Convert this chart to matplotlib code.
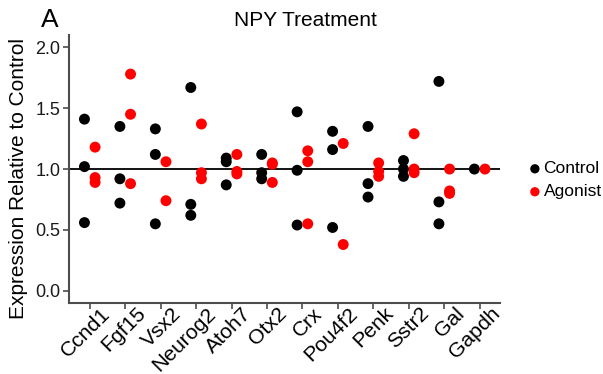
import matplotlib
matplotlib.use("Agg")
import matplotlib.pyplot as plt
import matplotlib.transforms as mtransforms
import numpy as np

genes = ["Ccnd1", "Fgf15", "Vsx2", "Neurog2", "Atoh7", "Otx2", "Crx",
         "Pou4f2", "Penk", "Sstr2", "Gal", "Gapdh"]

control = [
    [1.41, 1.02, 0.56],
    [1.35, 0.92, 0.72],
    [1.33, 1.12, 0.55],
    [1.67, 0.71, 0.62],
    [1.09, 1.06, 0.87],
    [1.12, 0.97, 0.92],
    [1.47, 0.99, 0.54],
    [1.31, 1.16, 0.52],
    [1.35, 0.88, 0.77],
    [1.07, 1.00, 0.94],
    [1.72, 0.73, 0.55],
    [1.00],
]
agonist = [
    [1.18, 0.93, 0.89],
    [1.78, 1.45, 0.88],
    [1.06, 0.74],
    [1.37, 0.97, 0.92],
    [1.12, 0.98, 0.96],
    [1.05, 1.04, 0.89],
    [1.15, 1.06, 0.55],
    [1.21, 0.38],
    [1.05, 0.98, 0.94],
    [1.29, 1.00, 0.97],
    [1.00, 0.82, 0.80],
    [1.00],
]
series_names = ["Control", "Agonist"]
series_colors = ["#000000", "#FF0000"]

plt.rcParams['font.family'] = ['Liberation Sans', 'DejaVu Sans']

fig = plt.figure(figsize=(6.03, 3.74), dpi=100)
ax = fig.add_axes([0.1136, 0.190, 0.829 - 0.1136, 0.906 - 0.190])

ax.axhline(1.0, color="black", lw=1.3, zorder=1)

dodge = 0.15
for k, (data, name, col) in enumerate(zip([control, agonist], series_names, series_colors)):
    xs, ys = [], []
    for i, vals in enumerate(data):
        for v in vals:
            xs.append(i + (-dodge if k == 0 else dodge))
            ys.append(v)
    ax.scatter(xs, ys, s=62, color=col, edgecolors="none", zorder=3, label=name)

ax.set_xlim(-0.6, 11.57)
ax.set_ylim(-0.1, 2.1)
ax.set_yticks([0.0, 0.5, 1.0, 1.5, 2.0])
ax.set_yticklabels(["0.0", "0.5", "1.0", "1.5", "2.0"], fontsize=13, color="#1a1a1a")
ax.set_xticks(np.arange(len(genes)))
ax.set_xticklabels([])

# category labels, rotated and anchored at their right baseline end
blend = mtransforms.blended_transform_factory(ax.transData, ax.transAxes)
offset = mtransforms.ScaledTranslation(0.21, -0.115, fig.dpi_scale_trans)
for i, g in enumerate(genes):
    ax.text(i, 0, g, transform=blend + offset, fontsize=15.2, rotation=45,
            ha="right", va="baseline", rotation_mode="anchor", clip_on=False)

for s in ["top", "right"]:
    ax.spines[s].set_visible(False)
for s in ["left", "bottom"]:
    ax.spines[s].set_color("#4d4d4d")
    ax.spines[s].set_linewidth(1.5)
ax.tick_params(axis="both", direction="out", length=4, width=1.2, color="#4d4d4d", pad=2)

ax.set_ylabel("Expression Relative to Control", fontsize=15)
ax.yaxis.set_label_coords(-0.094, 0.463)

fig.text(0.507, 0.93, "NPY Treatment", fontsize=15, ha="center", va="baseline")
fig.text(0.068, 0.928, "A", fontsize=19, ha="left", va="baseline")

leg = fig.legend(loc="center left", bbox_to_anchor=(0.864, 0.518), frameon=False,
                 fontsize=12.5, handletextpad=0.1, handlelength=0.8, markerscale=0.85,
                 labelspacing=0.45, borderaxespad=0)

fig.savefig("out.png", dpi=100)
